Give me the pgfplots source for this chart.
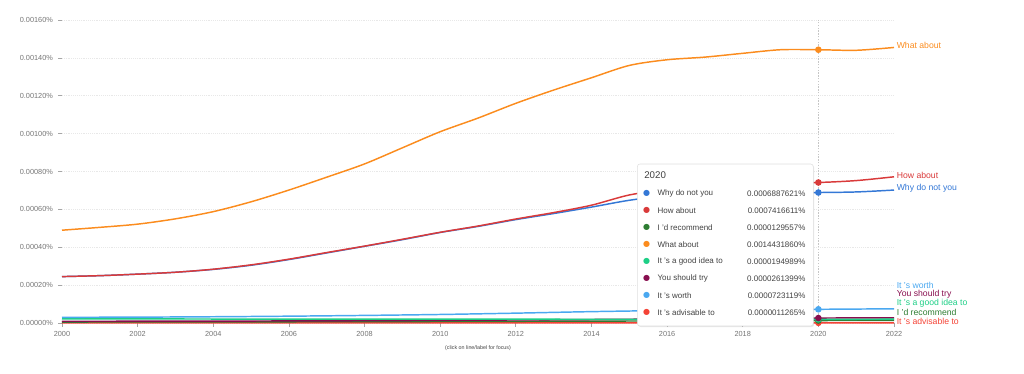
\documentclass[border=0pt]{standalone}
\usepackage{fontspec}
\setmainfont{Liberation Sans}
\newfontfamily\dejavu{DejaVu Sans}
\usepackage{pgfplots}
\pgfplotsset{compat=1.18}
\usetikzlibrary{shadows}
\definecolor{cWhy}{HTML}{3478D6}
\definecolor{cHow}{HTML}{D93A3A}
\definecolor{cRec}{HTML}{2E7D32}
\definecolor{cWhat}{HTML}{FB8C1E}
\definecolor{cIdea}{HTML}{1DCF86}
\definecolor{cTry}{HTML}{880E4F}
\definecolor{cWorth}{HTML}{4AA8F0}
\definecolor{cAdv}{HTML}{F44336}
\definecolor{tickgray}{HTML}{757575}
\definecolor{tipgray}{HTML}{424242}
\begin{document}
\begin{tikzpicture}
\path (0,0) rectangle (768pt,280.5pt);
\begin{axis}[at={(46.5pt,38.25pt)}, anchor=south west, scale only axis,
  width=624pt, height=227.25pt,
  xmin=2000, xmax=2022, ymin=0, ymax=0.0016,
  scaled y ticks=false, scaled x ticks=false,
  axis line style={draw=none},
  xtick={2000,2002,2004,2006,2008,2010,2012,2014,2016,2018,2020,2022},
  xticklabels={2000,2002,2004,2006,2008,2010,2012,2014,2016,2018,2020,2022},
  ytick={0,0.0002,0.0004,0.0006,0.0008,0.001,0.0012,0.0014,0.0016},
  yticklabels={0.00000\%,0.00020\%,0.00040\%,0.00060\%,0.00080\%,0.00100\%,0.00120\%,0.00140\%,0.00160\%},
  ymajorgrids, grid style={densely dotted, color=gray!18, line width=0.4pt},
  tick style={color=gray!70, line width=0.5pt},
  major tick length=3pt, tick align=outside, tick pos=left,
  ticklabel style={font=\fontsize{5.5}{6.5}\selectfont, text=tickgray},
  yticklabel style={xshift=-0.3pt},
  xticklabel style={yshift=0.5pt},
  clip=false, no markers,
  every axis plot/.append style={line width=1.1pt},
]
% vertical focus line at 2020
\addplot[densely dotted, color=gray!45, line width=0.5pt] coordinates {(2020,0) (2020,0.0016)};
% It's advisable to
\addplot[cAdv, smooth] coordinates {(2000,0.0000010) (2004,0.0000011) (2008,0.0000011) (2012,0.0000011) (2016,0.0000011) (2020,0.0000011) (2022,0.0000011)};
% I'd recommend
\addplot[cRec, smooth] coordinates {(2000,0.0000050) (2004,0.0000060) (2008,0.0000070) (2012,0.0000090) (2016,0.0000110) (2020,0.0000130) (2022,0.0000135)};
% You should try
\addplot[cTry, smooth] coordinates {(2000,0.0000090) (2004,0.0000100) (2008,0.0000120) (2012,0.0000160) (2016,0.0000210) (2020,0.0000261) (2022,0.0000270)};
% It's a good idea to
\addplot[cIdea, smooth] coordinates {(2000,0.0000220) (2004,0.0000210) (2008,0.0000200) (2012,0.0000200) (2016,0.0000195) (2020,0.0000195) (2022,0.0000200)};
% It's worth
\addplot[cWorth, smooth] coordinates {(2000,0.0000300) (2002,0.0000310) (2004,0.0000330) (2006,0.0000360) (2008,0.0000400) (2010,0.0000450) (2012,0.0000520) (2014,0.0000600) (2016,0.0000660) (2018,0.0000700) (2020,0.0000723) (2022,0.0000750)};
% Why do not you
\addplot[cWhy, smooth] coordinates {(2000,0.000245) (2001,0.000250) (2002,0.000258) (2003,0.000268) (2004,0.000283) (2005,0.000305) (2006,0.000335) (2007,0.000370) (2008,0.000405) (2009,0.000440) (2010,0.000478) (2011,0.000510) (2012,0.000546) (2013,0.000578) (2014,0.000612) (2015,0.000648) (2016,0.000672) (2017,0.000682) (2018,0.000687) (2019,0.000689) (2020,0.000689) (2021,0.000692) (2022,0.000702)};
% How about
\addplot[cHow, smooth] coordinates {(2000,0.000245) (2001,0.000250) (2002,0.000258) (2003,0.000268) (2004,0.000284) (2005,0.000307) (2006,0.000337) (2007,0.000372) (2008,0.000406) (2009,0.000442) (2010,0.000479) (2011,0.000512) (2012,0.000549) (2013,0.000583) (2014,0.000622) (2015,0.000676) (2016,0.000705) (2017,0.000718) (2018,0.000730) (2019,0.000740) (2020,0.000742) (2021,0.000752) (2022,0.000772)};
% What about
\addplot[cWhat, smooth] coordinates {(2000,0.000490) (2001,0.000505) (2002,0.000522) (2003,0.000550) (2004,0.000588) (2005,0.000640) (2006,0.000702) (2007,0.000770) (2008,0.000840) (2009,0.000925) (2010,0.001010) (2011,0.001082) (2012,0.001160) (2013,0.001230) (2014,0.001295) (2015,0.001360) (2016,0.001390) (2017,0.001404) (2018,0.001424) (2019,0.001443) (2020,0.001443) (2021,0.001440) (2022,0.001455)};
% focus markers at 2020
\addplot[only marks, mark=*, mark size=1.9pt, color=cAdv] coordinates {(2020,0.0000011)};
\addplot[only marks, mark=*, mark size=1.9pt, color=cRec] coordinates {(2020,0.0000130)};
\addplot[only marks, mark=*, mark size=1.9pt, color=cIdea] coordinates {(2020,0.0000195)};
\addplot[only marks, mark=*, mark size=1.9pt, color=cTry] coordinates {(2020,0.0000261)};
\addplot[only marks, mark=*, mark size=1.9pt, color=cWorth] coordinates {(2020,0.0000723)};
\addplot[only marks, mark=*, mark size=1.9pt, color=cWhy] coordinates {(2020,0.000689)};
\addplot[only marks, mark=*, mark size=1.9pt, color=cHow] coordinates {(2020,0.000742)};
\addplot[only marks, mark=*, mark size=1.9pt, color=cWhat] coordinates {(2020,0.001443)};
\end{axis}
% overlay in reference-pixel coordinates (1 px = 0.75 pt, y downwards)
\begin{scope}[x=0.75pt, y=-0.75pt, shift={(0,280.5pt)}]
  % right-hand labels
  \begin{scope}[every node/.style={anchor=west, inner sep=0pt, font=\fontsize{6.5}{7.5}\selectfont}]
    \node[text=cWhat] at (896.5,45) {What about};
    \node[text=cHow] at (896.5,175.7) {How about};
    \node[text=cWhy] at (896.5,188.3) {Why do not you};
    \node[text=cWorth] at (896.5,285.7) {It 's worth};
    \node[text=cTry] at (896.5,294.3) {You should try};
    \node[text=cIdea] at (896.5,303.2) {It 's a good idea to};
    \node[text=cRec] at (896.5,312.2) {I 'd recommend};
    \node[text=cAdv] at (896.5,321) {It 's advisable to};
  \end{scope}
  % caption
  \node[font=\fontsize{4}{5}\selectfont, text=tipgray, inner sep=0pt] at (478,348) {(click on line/label for focus)};
  % tooltip
  \draw[draw=gray!25, fill=white, rounded corners=2pt, line width=0.4pt,
        drop shadow={opacity=0.18, shadow xshift=0.6pt, shadow yshift=-0.8pt}]
        (637.3,164) rectangle (813.3,326);
  \node[anchor=west, inner sep=0pt, text=tipgray, font=\fontsize{7.3}{8}\selectfont] at (644,175) {2020};
  \begin{scope}[every node/.style={inner sep=0pt, font=\fontsize{6}{7}\selectfont, text=tipgray}]
    \node[anchor=west] at (657.3,193.3) {Why do not you};
    \node[anchor=west] at (657.3,210.7) {How about};
    \node[anchor=west] at (657.3,227.7) {I 'd recommend};
    \node[anchor=west] at (657.3,244.3) {What about};
    \node[anchor=west] at (657.3,261.7) {It 's a good idea to};
    \node[anchor=west] at (657.3,278.3) {You should try};
    \node[anchor=west] at (657.3,295.3) {It 's worth};
    \node[anchor=west] at (657.3,312.7) {It 's advisable to};
    \node[anchor=east] at (805.7,193.3) {0.0006887621\%};
    \node[anchor=east] at (805.7,210.7) {0.0007416611\%};
    \node[anchor=east] at (805.7,227.7) {0.0000129557\%};
    \node[anchor=east] at (805.7,244.3) {0.0014431860\%};
    \node[anchor=east] at (805.7,261.7) {0.0000194989\%};
    \node[anchor=east] at (805.7,278.3) {0.0000261399\%};
    \node[anchor=east] at (805.7,295.3) {0.0000723119\%};
    \node[anchor=east] at (805.7,312.7) {0.0000011265\%};
  \end{scope}
  \begin{scope}[every node/.style={inner sep=0pt, font=\dejavu\fontsize{6}{7}\selectfont}]
    \node[text=cWhy] at (646.7,193.3) {●};
    \node[text=cHow] at (646.7,210.7) {●};
    \node[text=cRec] at (646.7,227.7) {●};
    \node[text=cWhat] at (646.7,244.3) {●};
    \node[text=cIdea] at (646.7,261.7) {●};
    \node[text=cTry] at (646.7,278.3) {●};
    \node[text=cWorth] at (646.7,295.3) {●};
    \node[text=cAdv] at (646.7,312.7) {●};
  \end{scope}
\end{scope}
\end{tikzpicture}
\end{document}
